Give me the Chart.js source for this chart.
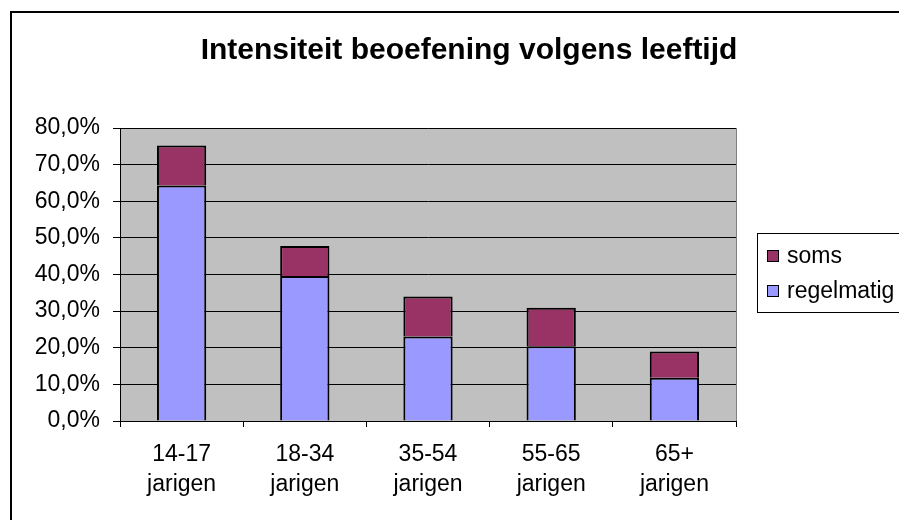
<!DOCTYPE html>
<html>
<head>
<meta charset="utf-8">
<script src="https://cdn.jsdelivr.net/npm/chart.js@4/dist/chart.umd.min.js"></script>
<style>
  html, body { margin: 0; padding: 0; background: #fff; overflow: hidden; }
  #frame { position: absolute; left: 10px; top: 11px; width: 940px; height: 540px; border: 2px solid #000; }
  #wrap { position: absolute; left: 0; top: 0; width: 938px; height: 520px; }
</style>
</head>
<body>
<div id="frame"></div>
<div id="wrap"><canvas id="grafico" width="938" height="520"></canvas></div>
<script>
const titel = 'Intensiteit beoefening volgens leeftijd';
const categorieen = [['14-17', 'jarigen'], ['18-34', 'jarigen'], ['35-54', 'jarigen'], ['55-65', 'jarigen'], ['65+', 'jarigen']];
const regelmatig = [64.3, 39.6, 23.1, 20.4, 11.8];
const soms = [10.9, 8.2, 10.9, 10.5, 7.2];
const yTicks = [0, 10, 20, 30, 40, 50, 60, 70, 80];

const lettertype = '"Liberation Sans", Arial, sans-serif';

// grijze achtergrond van het plotvlak
const plotAchtergrond = {
    id: 'plotAchtergrond',
    beforeDraw(chart) {
        const { ctx, chartArea: a } = chart;
        ctx.save();
        ctx.fillStyle = '#C0C0C0';
        ctx.fillRect(a.left, a.top, a.right - a.left, a.bottom - a.top);
        ctx.strokeStyle = '#808080';
        ctx.lineWidth = 1;
        ctx.strokeRect(a.left + 0.5, a.top + 0.5, a.right - a.left, a.bottom - a.top);
        ctx.restore();
    }
};

// titel gecentreerd over de hele grafiek (ook het stuk rechts buiten beeld)
const grafiekTitel = {
    id: 'grafiekTitel',
    afterDraw(chart) {
        const { ctx } = chart;
        ctx.save();
        ctx.font = 'bold 30px ' + lettertype;
        ctx.fillStyle = '#000';
        ctx.textAlign = 'center';
        ctx.textBaseline = 'middle';
        ctx.fillText(titel, chart.width / 2, 51);
        ctx.restore();
    }
};

// legenda met kader, zoals in Excel
const legendaKader = {
    id: 'legendaKader',
    afterDraw(chart) {
        const { ctx } = chart;
        const x = 757, y = 233;
        ctx.save();
        ctx.strokeStyle = '#000';
        ctx.lineWidth = 1;
        ctx.strokeRect(x + 0.5, y + 0.5, 200, 79);
        ctx.font = '23px ' + lettertype;
        ctx.textBaseline = 'middle';
        const items = chart.data.datasets.slice().reverse();
        items.forEach((ds, i) => {
            const cy = y + 23 + i * 35;
            ctx.fillStyle = ds.backgroundColor;
            ctx.fillRect(x + 10, cy - 6, 12, 12);
            ctx.strokeStyle = '#000';
            ctx.strokeRect(x + 10.5, cy - 5.5, 11, 11);
            ctx.fillStyle = '#000';
            ctx.fillText(ds.label, x + 30, cy + 1);
        });
        ctx.restore();
    }
};

new Chart(document.getElementById('grafico'), {
    type: 'bar',
    data: {
        labels: categorieen,
        datasets: [
            { label: 'regelmatig', data: regelmatig, backgroundColor: '#9999FF', borderColor: '#000',
              borderWidth: { top: 2, left: 2, right: 2, bottom: 0 }, borderSkipped: false },
            { label: 'soms', data: soms, backgroundColor: '#993366', borderColor: '#000',
              borderWidth: { top: 2, left: 2, right: 2, bottom: 0 }, borderSkipped: false }
        ]
    },
    options: {
        responsive: false,
        animation: false,
        layout: { padding: { left: 0, right: 202, top: 128, bottom: 0 } },
        datasets: { bar: { barPercentage: 1, categoryPercentage: 0.4 } },
        plugins: {
            legend: { display: false },
            tooltip: { enabled: false }
        },
        scales: {
            x: {
                stacked: true,
                afterFit(s) { s.height = 99; },
                grid: { drawOnChartArea: false, drawTicks: true, tickLength: 6, color: '#000' },
                border: { color: '#000', width: 1 },
                ticks: { color: '#000', padding: 13, maxRotation: 0,
                         font: { family: lettertype, size: 23, lineHeight: 1.3 } }
            },
            y: {
                stacked: true,
                min: 0, max: 80,
                afterFit(s) { s.width = 120; },
                afterBuildTicks(s) { s.ticks = yTicks.map(v => ({ value: v })); },
                grid: { color: '#000', lineWidth: 1, tickLength: 7 },
                border: { color: '#000', width: 1 },
                ticks: {
                    color: '#000', padding: 13,
                    font: { family: lettertype, size: 23 },
                    callback: v => v.toFixed(1).replace('.', ',') + '%'
                }
            }
        }
    },
    plugins: [plotAchtergrond, grafiekTitel, legendaKader]
});
</script>
</body>
</html>
